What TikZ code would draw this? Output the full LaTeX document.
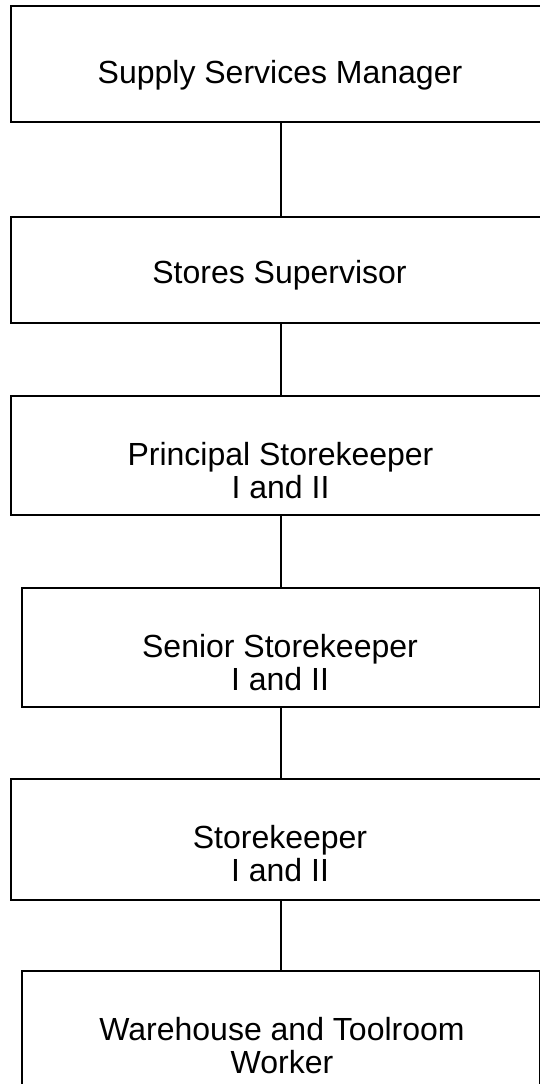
\documentclass[tikz,border=0pt]{standalone}
\usepackage{fontspec}
\setmainfont{Liberation Sans}

\tikzset{
    orgbox/.style={draw, line width=2pt, inner sep=0pt},
    orgtext/.style={anchor=north, align=center, inner sep=0pt,
        font=\fontsize{32}{33}\selectfont},
    orgline/.style={line width=2pt}
}

\begin{document}
\begin{tikzpicture}[x=1pt, y=-1pt]
            \useasboundingbox (0, 0) rectangle (540, 1084);
            \node[orgbox, minimum width=539pt, minimum height=116pt] (manager) at (280.5, 64) {};
            \node[orgbox, minimum width=539pt, minimum height=106pt] (supervisor) at (280.5, 270) {};
            \node[orgbox, minimum width=539pt, minimum height=119pt] (principal) at (280.5, 455.5) {};
            \node[orgbox, minimum width=518pt, minimum height=119pt] (senior) at (280.5, 647.5) {};
            \node[orgbox, minimum width=539pt, minimum height=121pt] (keeper) at (280.5, 839.5) {};
            \node[orgbox, minimum width=518pt, minimum height=119pt] (worker) at (280.5, 1030.5) {};
            % titles
            \node[orgtext] (manager-t) at ([xshift=-0.5pt, yshift=-55pt]manager.north) {Supply Services Manager};
            \node[orgtext] (supervisor-t) at ([xshift=-1pt, yshift=-44pt]supervisor.north) {Stores Supervisor};
            \node[orgtext] (principal-t) at ([yshift=-47pt]principal.north) {Principal Storekeeper\\I and II};
            \node[orgtext] (senior-t) at ([xshift=-0.5pt, yshift=-47pt]senior.north) {Senior Storekeeper\\I and II};
            \node[orgtext] (keeper-t) at ([xshift=-0.5pt, yshift=-47pt]keeper.north) {Storekeeper\\I and II};
            \node[orgtext] (worker-t) at ([xshift=1.5pt, yshift=-47pt]worker.north) {Warehouse and Toolroom\\Worker};
            \draw[orgline] (manager) -- (supervisor);
            \draw[orgline] (supervisor) -- (principal);
            \draw[orgline] (principal) -- (senior);
            \draw[orgline] (senior) -- (keeper);
            \draw[orgline] (keeper) -- (worker);
        \end{tikzpicture}
\end{document}
